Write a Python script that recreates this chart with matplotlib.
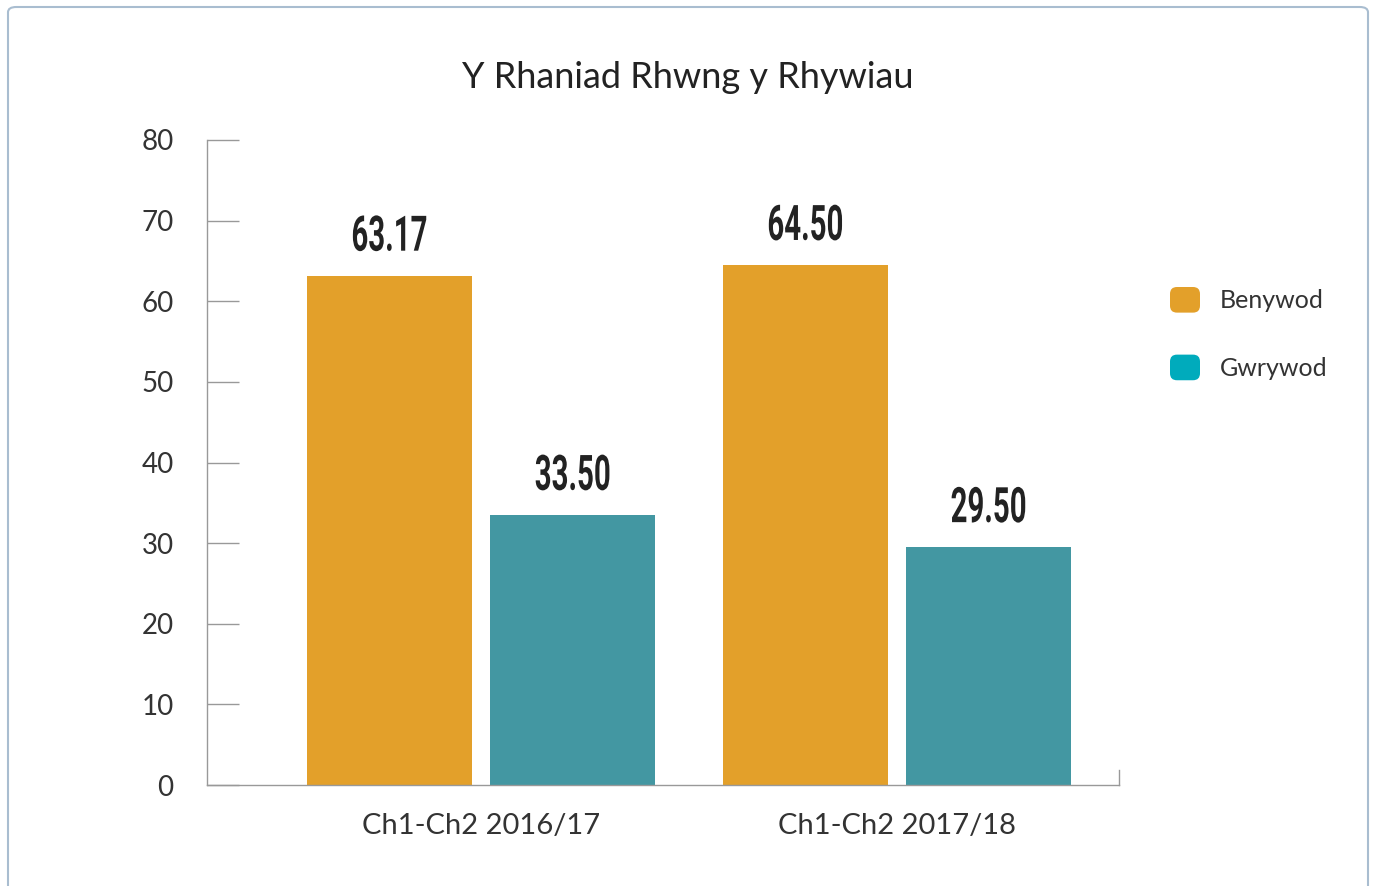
import matplotlib.pyplot as plt
from matplotlib.patches import FancyBboxPatch, Patch, PathPatch
from matplotlib.textpath import TextPath
from matplotlib.font_manager import FontProperties
from matplotlib.legend_handler import HandlerPatch
from matplotlib.transforms import Affine2D, IdentityTransform
import numpy as np

# data
categories = ["Ch1-Ch2 2016/17", "Ch1-Ch2 2017/18"]
benywod = [63.17, 64.50]
gwrywod = [33.50, 29.50]
series_names = ["Benywod", "Gwrywod"]
yticks = [0, 10, 20, 30, 40, 50, 60, 70, 80]

orange = "#E3A02A"
teal = "#4397A2"
teal_legend = "#00ABBC"

fig = plt.figure(figsize=(13.75, 8.86), dpi=100)
ax = fig.add_axes([207 / 1375, 1 - 785 / 886, (1119 - 207) / 1375, (785 - 140) / 886])

# card border
card = FancyBboxPatch((8 / 1375, -0.02), 1360 / 1375, (886 - 7) / 886 + 0.02,
                      boxstyle="round,pad=0,rounding_size=0.006",
                      transform=fig.transFigure, facecolor="none",
                      edgecolor="#A9BDD0", linewidth=1.5)
fig.patches.append(card)

x = np.arange(len(categories))
w = 0.397
off = 0.22
b1 = ax.bar(x - off, benywod, w, color=orange)
b2 = ax.bar(x + off, gwrywod, w, color=teal)

ax.set_xlim(-0.659, 1.534)
ax.set_ylim(0, 80)

# condensed value labels (text path squeezed horizontally)
lab_font = FontProperties(family="Roboto", weight="bold")
for bars, vals in [(b1, benywod), (b2, gwrywod)]:
    for r, v in zip(bars, vals):
        tp = TextPath((0, 0), f"{v:.2f}", size=49, prop=lab_font)
        ext = tp.get_extents()
        xd, yd = ax.transData.transform((r.get_x() + r.get_width() / 2, v))
        tr = (Affine2D().translate(-(ext.x0 + ext.x1) / 2, 0)
              .scale(0.6, 1).translate(xd, yd + 25))
        ax.add_patch(PathPatch(tp, transform=tr + IdentityTransform(),
                               facecolor="#222222", edgecolor="none",
                               clip_on=False))

ax.set_yticks(yticks)
ax.set_xticks(x)
ax.set_xticklabels(categories, fontsize=21, family="Lato", color="#333333")
ax.tick_params(axis="x", length=0, pad=20)
ax.tick_params(axis="y", direction="in", length=23, width=1, color="#999999",
               labelsize=20, pad=24, labelcolor="#333333")
for lbl in ax.get_yticklabels():
    lbl.set_family("Lato")

ax.spines["top"].set_visible(False)
for s in ["left", "bottom", "right"]:
    ax.spines[s].set_color("#999999")
    ax.spines[s].set_linewidth(1)
ax.spines["right"].set_bounds(0, 1.9)

fig.text(688 / 1375, 1 - 77 / 886, "Y Rhaniad Rhwng y Rhywiau", ha="center",
         va="center", fontsize=26, family="Lato", color="#222222")


class RoundHandler(HandlerPatch):
    def create_artists(self, legend, orig_handle, xdescent, ydescent,
                       width, height, fontsize, trans):
        p = FancyBboxPatch((-xdescent, -ydescent), width, height,
                           boxstyle="round,pad=0,rounding_size=5",
                           facecolor=orig_handle.get_facecolor(),
                           edgecolor="none", transform=trans)
        return [p]


handles = [Patch(facecolor=orange, edgecolor="none"),
           Patch(facecolor=teal_legend, edgecolor="none")]
fig.legend(handles, series_names, loc="upper left",
           bbox_to_anchor=(1160 / 1375, 1 - 277 / 886), frameon=False,
           prop={"family": "Lato", "size": 18}, borderaxespad=0,
           handlelength=1.2, handleheight=1.2, handletextpad=0.8,
           labelspacing=1.68, labelcolor="#333333",
           handler_map={Patch: RoundHandler()})

fig.savefig("out.png", dpi=100, facecolor="white")
